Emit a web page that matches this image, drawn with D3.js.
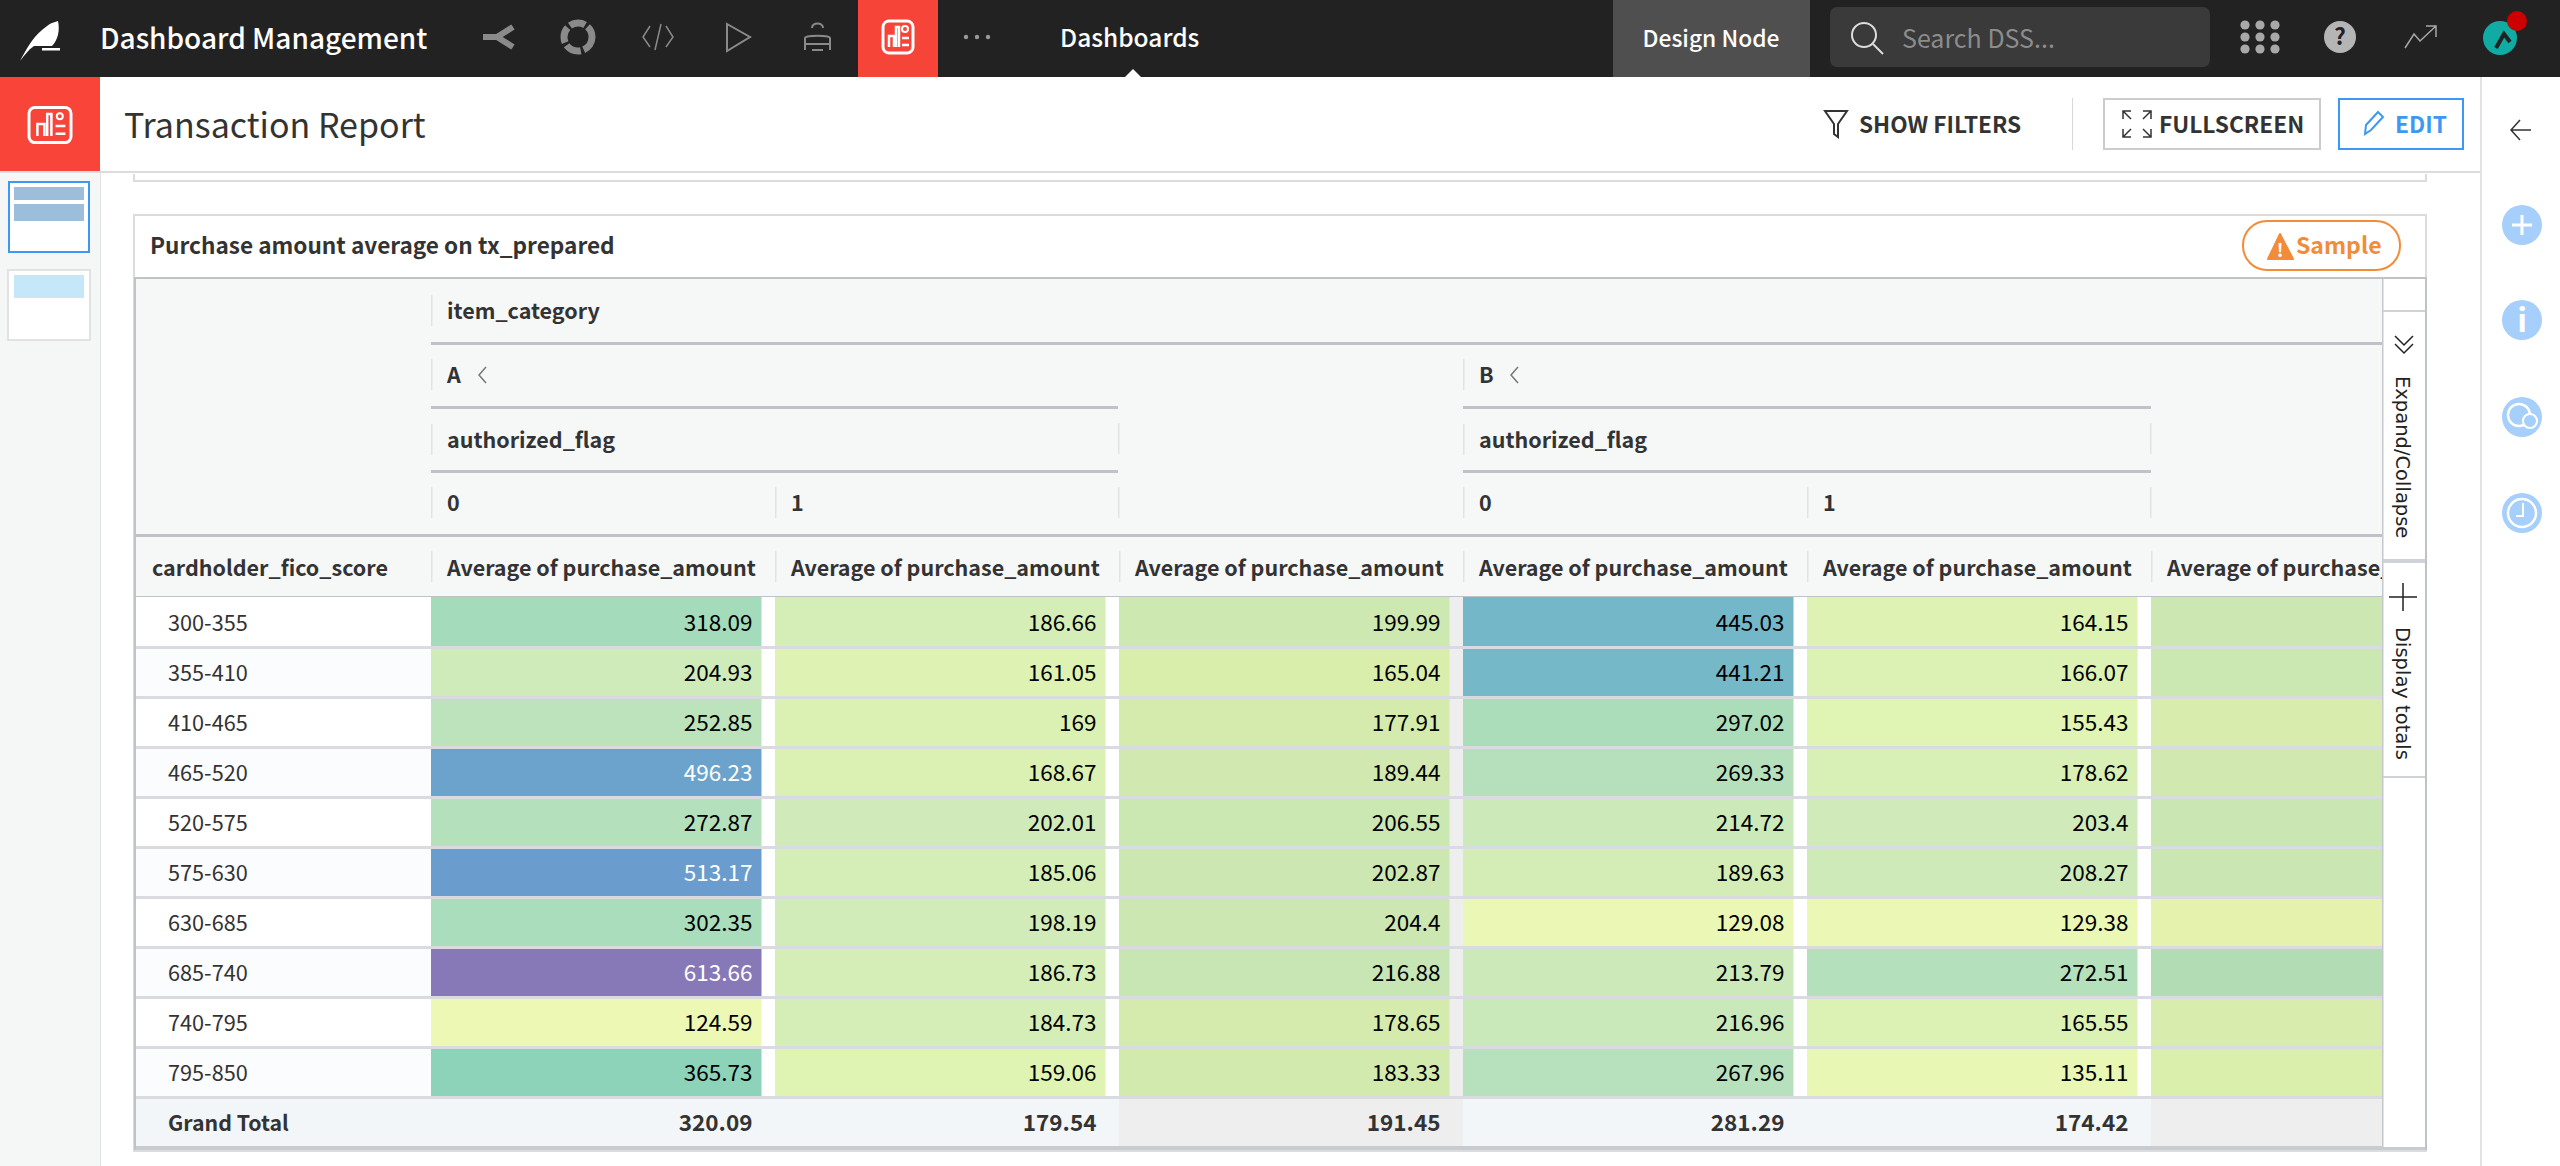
<!DOCTYPE html>
<html>
<head>
<meta charset="utf-8">
<script src="https://cdn.jsdelivr.net/npm/d3@7"></script>
<style>
  html, body { margin: 0; padding: 0; background: #fff; overflow: hidden; }
  svg { display: block; }
  text { font-family: "Noto Sans CJK SC", "Noto Sans", sans-serif; }
</style>
</head>
<body>
<svg id="chart" width="2560" height="1166"></svg>
<script>
// table data
const scoreBands = ["300-355", "355-410", "410-465", "465-520", "520-575", "575-630", "630-685", "685-740", "740-795", "795-850"];
const columns = ["A0", "A1", "AT", "B0", "B1", "BT"];
const grayColumns = ["AT", "BT"];
const valuesA0 = [318.09, 204.93, 252.85, 496.23, 272.87, 513.17, 302.35, 613.66, 124.59, 365.73];
const valuesA1 = [186.66, 161.05, 169, 168.67, 202.01, 185.06, 198.19, 186.73, 184.73, 159.06];
const valuesAT = [199.99, 165.04, 177.91, 189.44, 206.55, 202.87, 204.4, 216.88, 178.65, 183.33];
const valuesB0 = [445.03, 441.21, 297.02, 269.33, 214.72, 189.63, 129.08, 213.79, 216.96, 267.96];
const valuesB1 = [164.15, 166.07, 155.43, 178.62, 203.4, 208.27, 129.38, 272.51, 165.55, 135.11];
const valuesBT = [202, 208, 172, 190, 209, 209, 138, 272, 172, 162];
const grandTotals = [320.09, 179.54, 191.45, 281.29, 174.42, null];
const colorStops = [124.59, 161, 186, 205, 272, 318, 365, 445, 513, 613];
const colorRange = ["#edf8b5", "#def3b3", "#d5edb6", "#cfebb9", "#b5e0bc", "#a3dbbb", "#8dd3ba", "#74b7c9", "#6a9dcd", "#8779b7"];

const valuesByColumn = { A0: valuesA0, A1: valuesA1, AT: valuesAT, B0: valuesB0, B1: valuesB1, BT: valuesBT };

const svg = d3.select("#chart");
const color = d3.scaleLinear().domain(colorStops).range(colorRange);
const x = d3.scaleBand().domain(columns).range([431, 2495]);
const y = d3.scaleBand().domain(scoreBands).range([597, 1097]);
const tableRight = 2383;

// small helpers for the page chrome
function rect(g, a, b, w, h, fill, extra) {
  let r = g.append("rect").attr("x", a).attr("y", b).attr("width", w).attr("height", h).attr("fill", fill);
  if (extra) Object.entries(extra).forEach(([k, v]) => r.attr(k, v));
  return r;
}
function label(g, a, b, str, size, fill, weight, anchor) {
  return g.append("text").attr("x", a).attr("y", b).text(str)
    .attr("font-size", size).attr("fill", fill)
    .attr("font-weight", weight || 400).attr("text-anchor", anchor || "start");
}
function stroke(g, d, col, w) {
  return g.append("path").attr("d", d).attr("fill", "none").attr("stroke", col).attr("stroke-width", w || 2);
}

// ---- top bar
const bar = svg.append("g");
rect(bar, 0, 0, 2560, 77, "#222222");
bar.append("path").attr("fill", "#fff")
  .attr("d", "M20 61 C26 50 32 38 42 30 C46 27 49 24 52 23 L58 21 C60 30 58 40 52 46 L34 46 C28 50 24 56 20 61 Z");
rect(bar, 42, 48, 18, 2.5, "#fff");
label(bar, 100, 49, "Dashboard Management", 28, "#fff", 500);

const gray = "#8a8a8a";
stroke(bar, "M483 37 L497 37 M497 37 L513 27 M497 37 L513 47", gray, 6);
bar.append("circle").attr("cx", 578).attr("cy", 37).attr("r", 14).attr("fill", "none").attr("stroke", gray).attr("stroke-width", 7).attr("stroke-dasharray", "16 3");
stroke(bar, "M650 26 L643 37 L650 47 M666 26 L673 37 L666 47 M661 24 L655 50", gray, 1.5);
stroke(bar, "M727 24 L750 37 L727 51 Z", gray, 2);
stroke(bar, "M805 50 L805 38 C805 35 830 35 830 38 L830 50 M805 44 L830 44 M812 50 L823 50 M812 28 C812 22 823 22 823 28", gray, 2);
rect(bar, 858, 0, 80, 77, "#f74439");
function dashIcon(g, cx, cy, sx, sy) {
  rect(g, cx - 15 * sx, cy - 16 * sy, 30 * sx, 32 * sy, "none", { stroke: "#fff", "stroke-width": 3, rx: 6 });
  stroke(g, `M${cx - 9 * sx} ${cy + 10 * sy} L${cx - 9 * sx} ${cy - 1 * sy} L${cx - 4 * sx} ${cy - 1 * sy} L${cx - 4 * sx} ${cy + 10 * sy} M${cx - 2 * sx} ${cy + 10 * sy} L${cx - 2 * sx} ${cy - 10 * sy} L${cx + 1 * sx} ${cy - 10 * sy} L${cx + 1 * sx} ${cy + 10 * sy}`, "#fff", 2.5);
  stroke(g, `M${cx + 4 * sx} ${cy + 1 * sy} L${cx + 11 * sx} ${cy + 1 * sy} M${cx + 4 * sx} ${cy + 8 * sy} L${cx + 11 * sx} ${cy + 8 * sy}`, "#fff", 2.5);
  g.append("circle").attr("cx", cx + 7 * sx).attr("cy", cy - 8 * sy).attr("r", 3).attr("fill", "none").attr("stroke", "#fff").attr("stroke-width", 2);
}
dashIcon(bar, 898, 37, 1, 1);
[966, 977, 988].forEach(a => bar.append("circle").attr("cx", a).attr("cy", 37).attr("r", 2.2).attr("fill", "#999"));
label(bar, 1060, 47, "Dashboards", 24.5, "#fff", 500);
bar.append("path").attr("d", "M1125 77 L1133 69 L1141 77 Z").attr("fill", "#fff");
rect(bar, 1613, 0, 197, 77, "#4f4f4f");
label(bar, 1711, 47, "Design Node", 22.8, "#fff", 500, "middle");
rect(bar, 1830, 7, 380, 60, "#3a3a3a", { rx: 7 });
bar.append("circle").attr("cx", 1864).attr("cy", 35).attr("r", 12).attr("fill", "none").attr("stroke", "#ddd").attr("stroke-width", 2);
stroke(bar, "M1873 44 L1883 54", "#ddd", 2);
label(bar, 1902, 48, "Search DSS...", 25, "#8c8c8c", 400);
[2245, 2260, 2275].forEach(a => [25, 37, 49].forEach(b => bar.append("circle").attr("cx", a).attr("cy", b).attr("r", 4.6).attr("fill", "#a8a8a8")));
bar.append("circle").attr("cx", 2340).attr("cy", 37).attr("r", 16).attr("fill", "#b5b5b5");
label(bar, 2340, 45, "?", 23, "#222", 700, "middle");
stroke(bar, "M2405 48 L2414 34 L2420 41 L2436 26 M2426 26 L2436 26 L2436 37", "#a8a8a8", 1.5);
bar.append("circle").attr("cx", 2500).attr("cy", 38).attr("r", 17).attr("fill", "#10aba3");
stroke(bar, "M2496 48 L2504 34 L2510 42", "#222", 4);
bar.append("circle").attr("cx", 2517).attr("cy", 21).attr("r", 10).attr("fill", "#cc0000");

// ---- header strip
const head = svg.append("g");
rect(head, 0, 77, 100, 94, "#f94439");
dashIcon(head, 50, 125, 1.4, 1.1);
label(head, 124, 138, "Transaction Report", 34, "#333", 400);
rect(head, 0, 171, 2480, 2, "#dcdcdc");
stroke(head, "M1825 111 L1847 111 L1838 124 L1838 137 L1834 134 L1834 124 Z", "#333", 2);
label(head, 1859, 133, "SHOW FILTERS", 22.6, "#333", 700);
rect(head, 2072, 98, 1, 52, "#d8d8d8");
rect(head, 2104, 99, 216, 50, "#fff", { stroke: "#ccc", "stroke-width": 2 });
stroke(head, "M2123 119 L2123 111 L2131 111 M2123 111 L2131 119 M2151 119 L2151 111 L2143 111 M2151 111 L2143 119 M2123 129 L2123 137 L2131 137 M2123 137 L2131 129 M2151 129 L2151 137 L2143 137 M2151 137 L2143 129", "#333", 1.5);
label(head, 2159, 133, "FULLSCREEN", 22.7, "#333", 700);
rect(head, 2339, 99, 124, 50, "#fff", { stroke: "#3d98f5", "stroke-width": 2 });
stroke(head, "M2365 134 L2366 125 L2378 112 L2383 117 L2371 130 Z", "#3d98f5", 2);
label(head, 2395, 133, "EDIT", 22.7, "#3d98f5", 700);

// ---- left thumbnails
const side = svg.append("g");
rect(side, 0, 173, 100, 993, "#f5f6f6");
rect(side, 100, 173, 1, 993, "#e2e2e2");
rect(side, 9, 182, 80, 70, "#fff", { stroke: "#3d98f5", "stroke-width": 2 });
rect(side, 14, 187, 70, 13, "#9dbedb");
rect(side, 14, 204, 70, 17, "#9dbedb");
rect(side, 8, 270, 82, 70, "#fff", { stroke: "#e2e2e2", "stroke-width": 2 });
rect(side, 14, 275, 70, 23, "#c6e7f9");

// ---- right sidebar
const right = svg.append("g");
rect(right, 2480, 77, 2, 1089, "#e2e2e2");
stroke(right, "M2531 130 L2511 130 M2520 120 L2511 130 L2520 140", "#333", 1.5);
const iconBlue = "#a6cffb";
[225, 320, 417, 513].forEach(b => right.append("circle").attr("cx", 2522).attr("cy", b).attr("r", 20).attr("fill", iconBlue));
stroke(right, "M2522 215 L2522 235 M2512 225 L2532 225", "#fff", 3);
label(right, 2522, 332, "i", 32, "#fff", 700, "middle");
right.append("circle").attr("cx", 2519).attr("cy", 415).attr("r", 11).attr("fill", "none").attr("stroke", "#fff").attr("stroke-width", 2.5);
right.append("circle").attr("cx", 2530).attr("cy", 421).attr("r", 7).attr("fill", iconBlue).attr("stroke", "#fff").attr("stroke-width", 2);
right.append("circle").attr("cx", 2522).attr("cy", 513).attr("r", 14).attr("fill", "none").attr("stroke", "#fff").attr("stroke-width", 2.5);
stroke(right, "M2523 503 L2523 516 L2516 516", "#fff", 2);

// ---- dashboard tiles
const tile = svg.append("g");
stroke(tile, "M134 174 L134 181 L2426 181 L2426 174", "#dcdcdc", 2);
rect(tile, 134, 215, 2292, 936, "#fff", { stroke: "#dcdcdc", "stroke-width": 2 });
label(tile, 150, 254, "Purchase amount average on tx_prepared", 22.6, "#333", 600);
rect(tile, 2243, 221, 157, 49, "#fff", { stroke: "#f28c38", "stroke-width": 2, rx: 24 });
tile.append("path").attr("d", "M2268 259 L2280 234 L2293 259 Z").attr("fill", "#f28c38").attr("stroke", "#f28c38").attr("stroke-width", 2).attr("stroke-linejoin", "round");
label(tile, 2280, 257, "!", 18, "#fff", 700, "middle");
label(tile, 2296, 254, "Sample", 23, "#f28c38", 700);

// ---- pivot table
const table = svg.append("g");
const lineColor = "#bfc3c8";
const sepColor = "#e1e4e4";
const headSize = 21.5;
rect(table, 135, 277, 2248, 321, "#f6f7f7");
rect(table, 135, 598, 296, 549, "#fff");

// header rules
[[431, tableRight, 343], [431, 1118, 407], [1463, 2151, 407], [431, 1118, 471], [1463, 2151, 471], [135, tableRight, 535], [135, tableRight, 597]].forEach(d => {
  rect(table, d[0], d[2] - 1, d[1] - d[0], 3, lineColor);
});

function headCell(a, b, str, sep) {
  if (sep !== false) rect(table, a, b - 16, 1.5, 31, sepColor);
  if (str) label(table, a + 16, b + 8, str, headSize, "#333", 700);
}
headCell(431, 311, "item_category");
headCell(431, 375, "A");
headCell(1463, 375, "B");
stroke(table, "M486 367 L479 375 L486 383", "#777", 1.5);
stroke(table, "M1518 367 L1511 375 L1518 383", "#777", 1.5);
headCell(431, 440, "authorized_flag");
headCell(1463, 440, "authorized_flag");
rect(table, 1118, 423, 1.5, 31, sepColor);
rect(table, 2150, 423, 1.5, 31, sepColor);
headCell(431, 503, "0");
headCell(775, 503, "1");
headCell(1463, 503, "0");
headCell(1807, 503, "1");
rect(table, 1118, 487, 1.5, 31, sepColor);
rect(table, 2150, 487, 1.5, 31, sepColor);
label(table, 152, 576, "cardholder_fico_score", headSize, "#333", 700);

const clip = svg.append("defs").append("clipPath").attr("id", "tableClip");
clip.append("rect").attr("x", 135).attr("y", 277).attr("width", tableRight - 135).attr("height", 880);
const clipped = table.append("g").attr("clip-path", "url(#tableClip)");

const measureHeads = clipped.selectAll(".measure").data(columns).join("g").attr("class", "measure");
measureHeads.append("rect").attr("x", d => x(d)).attr("y", 551).attr("width", 1.5).attr("height", 31).attr("fill", sepColor);
measureHeads.append("text").attr("x", d => x(d) + 16).attr("y", 576).text("Average of purchase_amount")
  .attr("font-size", headSize).attr("font-weight", 700).attr("fill", "#333");

// row stripes
const rows = clipped.selectAll(".row").data(scoreBands).join("g").attr("class", "row")
  .attr("transform", d => `translate(0,${y(d)})`);
rows.append("rect").attr("x", 135).attr("width", 296).attr("height", y.bandwidth())
  .attr("fill", (d, i) => i % 2 ? "#fbfcfe" : "#fff");
rows.append("text").attr("x", 168).attr("y", 33.5).text(d => d).attr("font-size", 21.7).attr("fill", "#333");

const cellGap = 13.5;
columns.forEach(col => {
  const isGray = grayColumns.includes(col);
  const g = clipped.append("g");
  if (isGray) rect(g, x(col), 597, x.bandwidth(), 500, "#eeeeee");
  else rect(g, x(col), 597, x.bandwidth(), 500, "#fff");
  const cells = g.selectAll("g").data(valuesByColumn[col]).join("g")
    .attr("transform", (d, i) => `translate(${x(col)},${y(scoreBands[i])})`);
  cells.append("rect").attr("width", x.bandwidth() - cellGap).attr("height", y.bandwidth())
    .attr("fill", d => {
      const c = d3.rgb(color(d));
      if (!isGray) return c;
      return d3.rgb(c.r * 0.985, c.g * 0.985, c.b * 0.96);
    });
  cells.append("text").attr("x", x.bandwidth() - cellGap - 9).attr("y", 33.5).attr("text-anchor", "end")
    .text(d => d).attr("font-size", 22.5).attr("fill", d => d > 480 ? "#fff" : "#000");
});

// row rules over the coloured cells
clipped.selectAll(".rule").data(scoreBands).join("rect").attr("class", "rule")
  .attr("x", 135).attr("y", d => y(d) + y.bandwidth() - 1).attr("width", tableRight - 135).attr("height", 3)
  .attr("fill", "#d9dbe0");

// grand total row
rect(clipped, 135, 1099, tableRight - 135, 47, "#f2f6f9");
columns.forEach((col, i) => {
  if (grayColumns.includes(col)) rect(clipped, x(col), 1099, x.bandwidth(), 47, "#eeeeee");
  if (grandTotals[i] !== null) label(clipped, x(col) + x.bandwidth() - cellGap - 9, 1131, grandTotals[i], 22.5, "#333", 700, "end");
});
label(clipped, 168, 1131, "Grand Total", 21.3, "#333", 700);
rect(table, 135, 1146, 2291, 4, "#c8ccd0");

// expand / totals strip on the right of the table
rect(table, 2383, 277, 43, 870, "#fff");
rect(table, 2382, 277, 1.5, 870, "#c4c8cc");
rect(table, 2383, 310, 43, 2, "#cfd2d6");
rect(table, 2383, 559, 43, 4, "#cfd2d6");
rect(table, 2383, 776, 43, 2, "#cfd2d6");
rect(table, 135, 277, 2291, 2, lineColor);
rect(table, 134, 277, 2, 873, lineColor);
rect(table, 2425, 277, 2, 873, lineColor);
stroke(table, "M2395 336 L2404 345 L2413 336 M2395 344 L2404 353 L2413 344", "#222", 1.5);
stroke(table, "M2403 583 L2403 611 M2389 597 L2417 597", "#222", 1.5);
table.append("text").attr("transform", "translate(2396,376) rotate(90)").text("Expand/Collapse")
  .attr("font-size", 19.5).attr("fill", "#222").style("font-family", "DejaVu Sans");
table.append("text").attr("transform", "translate(2396,627) rotate(90)").text("Display totals")
  .attr("font-size", 19.5).attr("fill", "#222").style("font-family", "DejaVu Sans");
</script>
</body>
</html>
